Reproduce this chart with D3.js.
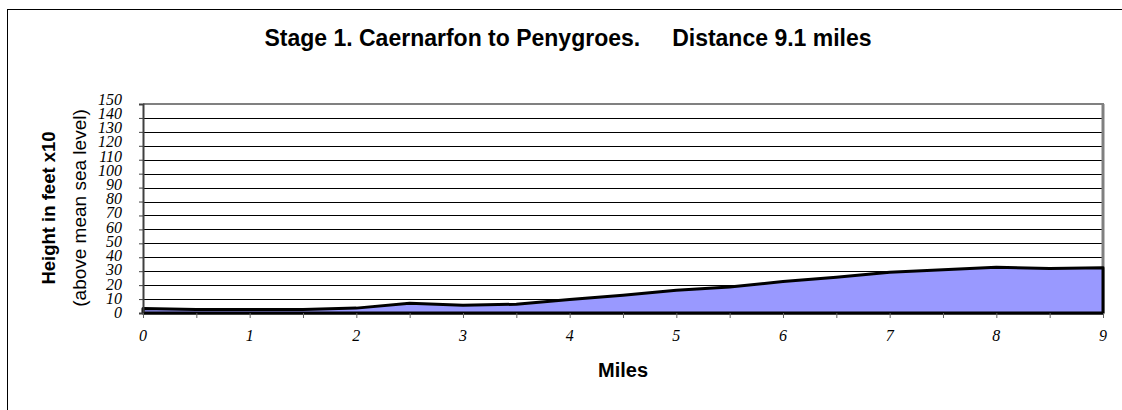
<!DOCTYPE html>
<html>
<head>
<meta charset="utf-8">
<script src="https://cdn.jsdelivr.net/npm/d3@7"></script>
<style>
  body { margin: 0; background: #fff; }
  svg { display: block; }
</style>
</head>
<body>
<div id="chart"></div>
<script>
const miles = [0, 0.5, 1, 1.5, 2, 2.5, 3, 3.5, 4, 4.5, 5, 5.5, 6, 6.5, 7, 7.5, 8, 8.5, 9];
const heights = [3.2, 2.5, 2.5, 2.5, 3.5, 7, 5.5, 6.3, 9.7, 12.8, 16.4, 18.6, 22.6, 25.7, 29.3, 31.1, 32.9, 31.9, 32.5];
const yTicks = d3.range(0, 151, 10);
const xTicks = d3.range(0, 9.01, 0.5);
const xLabels = [0, 1, 2, 3, 4, 5, 6, 7, 8, 9];

const titleText = 'Stage 1. Caernarfon to Penygroes.\u00a0\u00a0\u00a0\u00a0 Distance 9.1 miles';

const width = 1122;
const height = 410;
const plot = { left: 143, right: 1103, top: 104, bottom: 313 };

const svg = d3.select('#chart')
  .append('svg')
  .attr('width', width)
  .attr('height', height);

svg.append('rect')
  .attr('width', width)
  .attr('height', height)
  .attr('fill', '#fff');

// outer frame
svg.append('rect')
  .attr('x', 7.5)
  .attr('y', 9.5)
  .attr('width', width)
  .attr('height', height)
  .attr('fill', 'none')
  .attr('stroke', '#000')
  .attr('stroke-width', 1);

const x = d3.scaleLinear()
  .domain([0, 9])
  .range([plot.left, plot.right]);

const y = d3.scaleLinear()
  .domain([0, 150])
  .range([plot.bottom, plot.top]);

// gridlines
svg.append('g')
  .selectAll('line')
  .data(yTicks.filter(d => d > 0 && d < 150))
  .enter()
  .append('line')
  .attr('x1', plot.left)
  .attr('x2', plot.right)
  .attr('y1', d => Math.round(y(d)) + 0.5)
  .attr('y2', d => Math.round(y(d)) + 0.5)
  .attr('stroke', '#000')
  .attr('stroke-width', 1);

// plot border top / right
svg.append('line')
  .attr('x1', plot.left)
  .attr('x2', plot.right + 1)
  .attr('y1', y(150))
  .attr('y2', y(150))
  .attr('stroke', '#808080')
  .attr('stroke-width', 2);

svg.append('line')
  .attr('x1', plot.right)
  .attr('x2', plot.right)
  .attr('y1', y(150))
  .attr('y2', plot.bottom)
  .attr('stroke', '#808080')
  .attr('stroke-width', 3);

// area
const area = d3.area()
  .x((d, i) => x(miles[i]))
  .y0(y(0))
  .y1(d => y(d));

svg.append('path')
  .datum(heights)
  .attr('d', d => area(d) + 'Z')
  .attr('fill', '#9999ff')
  .attr('stroke', '#000')
  .attr('stroke-width', 3)
  .attr('stroke-linejoin', 'round');

// y axis
const yAxis = svg.append('g')
  .attr('transform', `translate(${plot.left},0)`)
  .call(d3.axisLeft(y).tickValues(yTicks).tickSize(4).tickFormat(''));

yAxis.select('.domain').attr('stroke', '#404040').attr('stroke-width', 2);
yAxis.selectAll('.tick line').attr('stroke', '#404040');

svg.append('g')
  .selectAll('text')
  .data(yTicks)
  .enter()
  .append('text')
  .attr('x', 122)
  .attr('y', d => y(d) - d * 0.03)
  .attr('dy', '0.32em')
  .attr('text-anchor', 'end')
  .attr('font-family', '"Liberation Serif", "Times New Roman", serif')
  .attr('font-style', 'italic')
  .attr('font-size', '16px')
  .attr('fill', '#000')
  .text(d => d);

// x axis
const xAxis = svg.append('g')
  .attr('transform', `translate(0,${plot.bottom})`)
  .call(d3.axisBottom(x).tickValues(xTicks).tickSize(5).tickSizeOuter(0).tickFormat(''));

xAxis.select('.domain').attr('stroke', '#000').attr('stroke-width', 2);
xAxis.selectAll('.tick line').attr('stroke', '#606060');

svg.append('g')
  .selectAll('text')
  .data(xLabels)
  .enter()
  .append('text')
  .attr('x', d => x(d))
  .attr('y', 341)
  .attr('text-anchor', 'middle')
  .attr('font-family', '"Liberation Serif", "Times New Roman", serif')
  .attr('font-style', 'italic')
  .attr('font-size', '16px')
  .attr('fill', '#000')
  .text(d => d);

// titles
svg.append('text')
  .attr('x', 568)
  .attr('y', 46)
  .attr('text-anchor', 'middle')
  .attr('font-family', '"Liberation Sans", Arial, sans-serif')
  .attr('font-weight', 'bold')
  .attr('font-size', '23px')
  .text(titleText);

svg.append('text')
  .attr('x', 623)
  .attr('y', 377)
  .attr('text-anchor', 'middle')
  .attr('font-family', '"Liberation Sans", Arial, sans-serif')
  .attr('font-weight', 'bold')
  .attr('font-size', '20px')
  .text('Miles');

svg.append('text')
  .attr('transform', 'translate(55,208) rotate(-90)')
  .attr('text-anchor', 'middle')
  .attr('font-family', '"Liberation Sans", Arial, sans-serif')
  .attr('font-weight', 'bold')
  .attr('font-size', '18.5px')
  .text('Height in feet x10');

svg.append('text')
  .attr('transform', 'translate(86,208) rotate(-90)')
  .attr('text-anchor', 'middle')
  .attr('font-family', '"Liberation Sans", Arial, sans-serif')
  .attr('font-size', '19px')
  .text('(above mean sea level)');
</script>
</body>
</html>
